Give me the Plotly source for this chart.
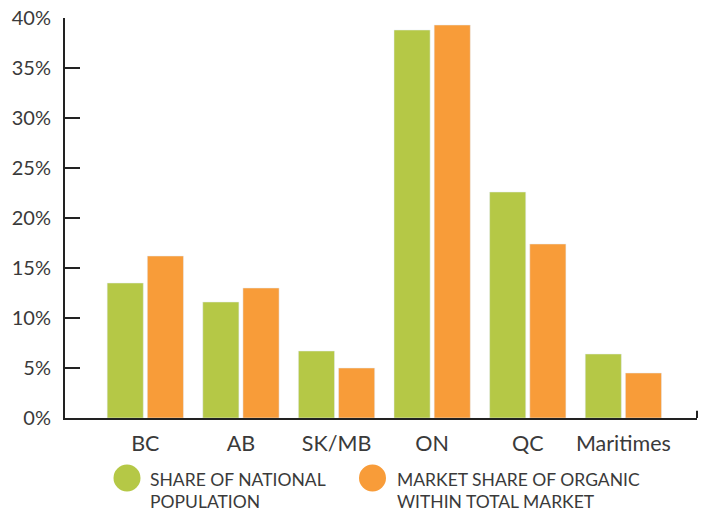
import plotly.graph_objects as go

categories = ["BC", "AB", "SK/MB", "ON", "QC", "Maritimes"]
population_share = [13.5, 11.6, 6.7, 38.8, 22.6, 6.4]
organic_share = [16.2, 13.0, 5.0, 39.3, 17.4, 4.5]
y_ticks = [0, 5, 10, 15, 20, 25, 30, 35, 40]
y_tick_labels = [f"{v}%" for v in y_ticks]
series_names = ["SHARE OF NATIONAL POPULATION", "MARKET SHARE OF ORGANIC WITHIN TOTAL MARKET"]
legend_lines = [["SHARE OF NATIONAL", "POPULATION"], ["MARKET SHARE OF ORGANIC", "WITHIN TOTAL MARKET"]]

GREEN = "#b5c846"
ORANGE = "#f89c39"
TEXT = "#3a3a3a"
AXIS = "#222222"

W, H = 702, 512
L, R, T, B = 65, 5, 18, 94
PW, PH = W - L - R, H - T - B


def px(x):  # pixel x -> paper
    return (x - L) / PW


def py(y):  # pixel y -> paper
    return (H - B - y) / PH


fig = go.Figure()
fig.add_trace(go.Bar(x=categories, y=population_share, marker_color=GREEN,
                     name=series_names[0], showlegend=False))
fig.add_trace(go.Bar(x=categories, y=organic_share, marker_color=ORANGE,
                     name=series_names[1], showlegend=False))

fig.update_layout(
    width=W, height=H,
    margin=dict(l=L, r=R, t=T, b=B, autoexpand=False),
    plot_bgcolor="white", paper_bgcolor="white",
    font=dict(family="Lato, 'Open Sans', sans-serif", color=TEXT, size=20),
    barmode="group", bargap=0.16, bargroupgap=0.1,
    showlegend=False,
)
fig.update_xaxes(range=[-0.84, 5.77], showline=True, linecolor=AXIS, linewidth=2,
                 ticks="", showgrid=False, automargin=False, ticklabelstandoff=5,
                 tickfont=dict(size=21.5, color=TEXT))
fig.update_yaxes(range=[0, 40], tickvals=y_ticks, ticktext=y_tick_labels,
                 showline=True, linecolor=AXIS, linewidth=2, ticks="inside",
                 ticklen=15, tickwidth=2, tickcolor=AXIS, showgrid=False,
                 zeroline=False, automargin=False, ticklabelstandoff=8,
                 ticklabeloverflow="allow",
                 tickfont=dict(size=20, color=TEXT))
# small end tick at right of x axis
fig.add_shape(type="line", xref="paper", yref="paper", x0=1, x1=1, y0=0, y1=0.018,
              line=dict(color=AXIS, width=2))

# legend: circles + two-line labels
legend_items = [(127, 148, GREEN, legend_lines[0]), (372.5, 395, ORANGE, legend_lines[1])]
for cx, tx, col, lines in legend_items:
    fig.add_shape(type="circle", xref="paper", yref="paper",
                  xsizemode="pixel", ysizemode="pixel",
                  xanchor=px(cx), yanchor=py(478),
                  x0=-13.5, x1=13.5, y0=-13.5, y1=13.5,
                  fillcolor=col, line=dict(width=0))
    for i, line in enumerate(lines):
        fig.add_annotation(xref="paper", yref="paper", x=px(tx), y=py(479 + 22 * i),
                           xanchor="left", yanchor="middle", showarrow=False,
                           text=line, font=dict(size=17.5, color=TEXT))

# remove the default 8px page margin so the figure fills the window
fig.write_html("out.html", config={"displayModeBar": False},
               post_script="document.body.style.margin='0';")
